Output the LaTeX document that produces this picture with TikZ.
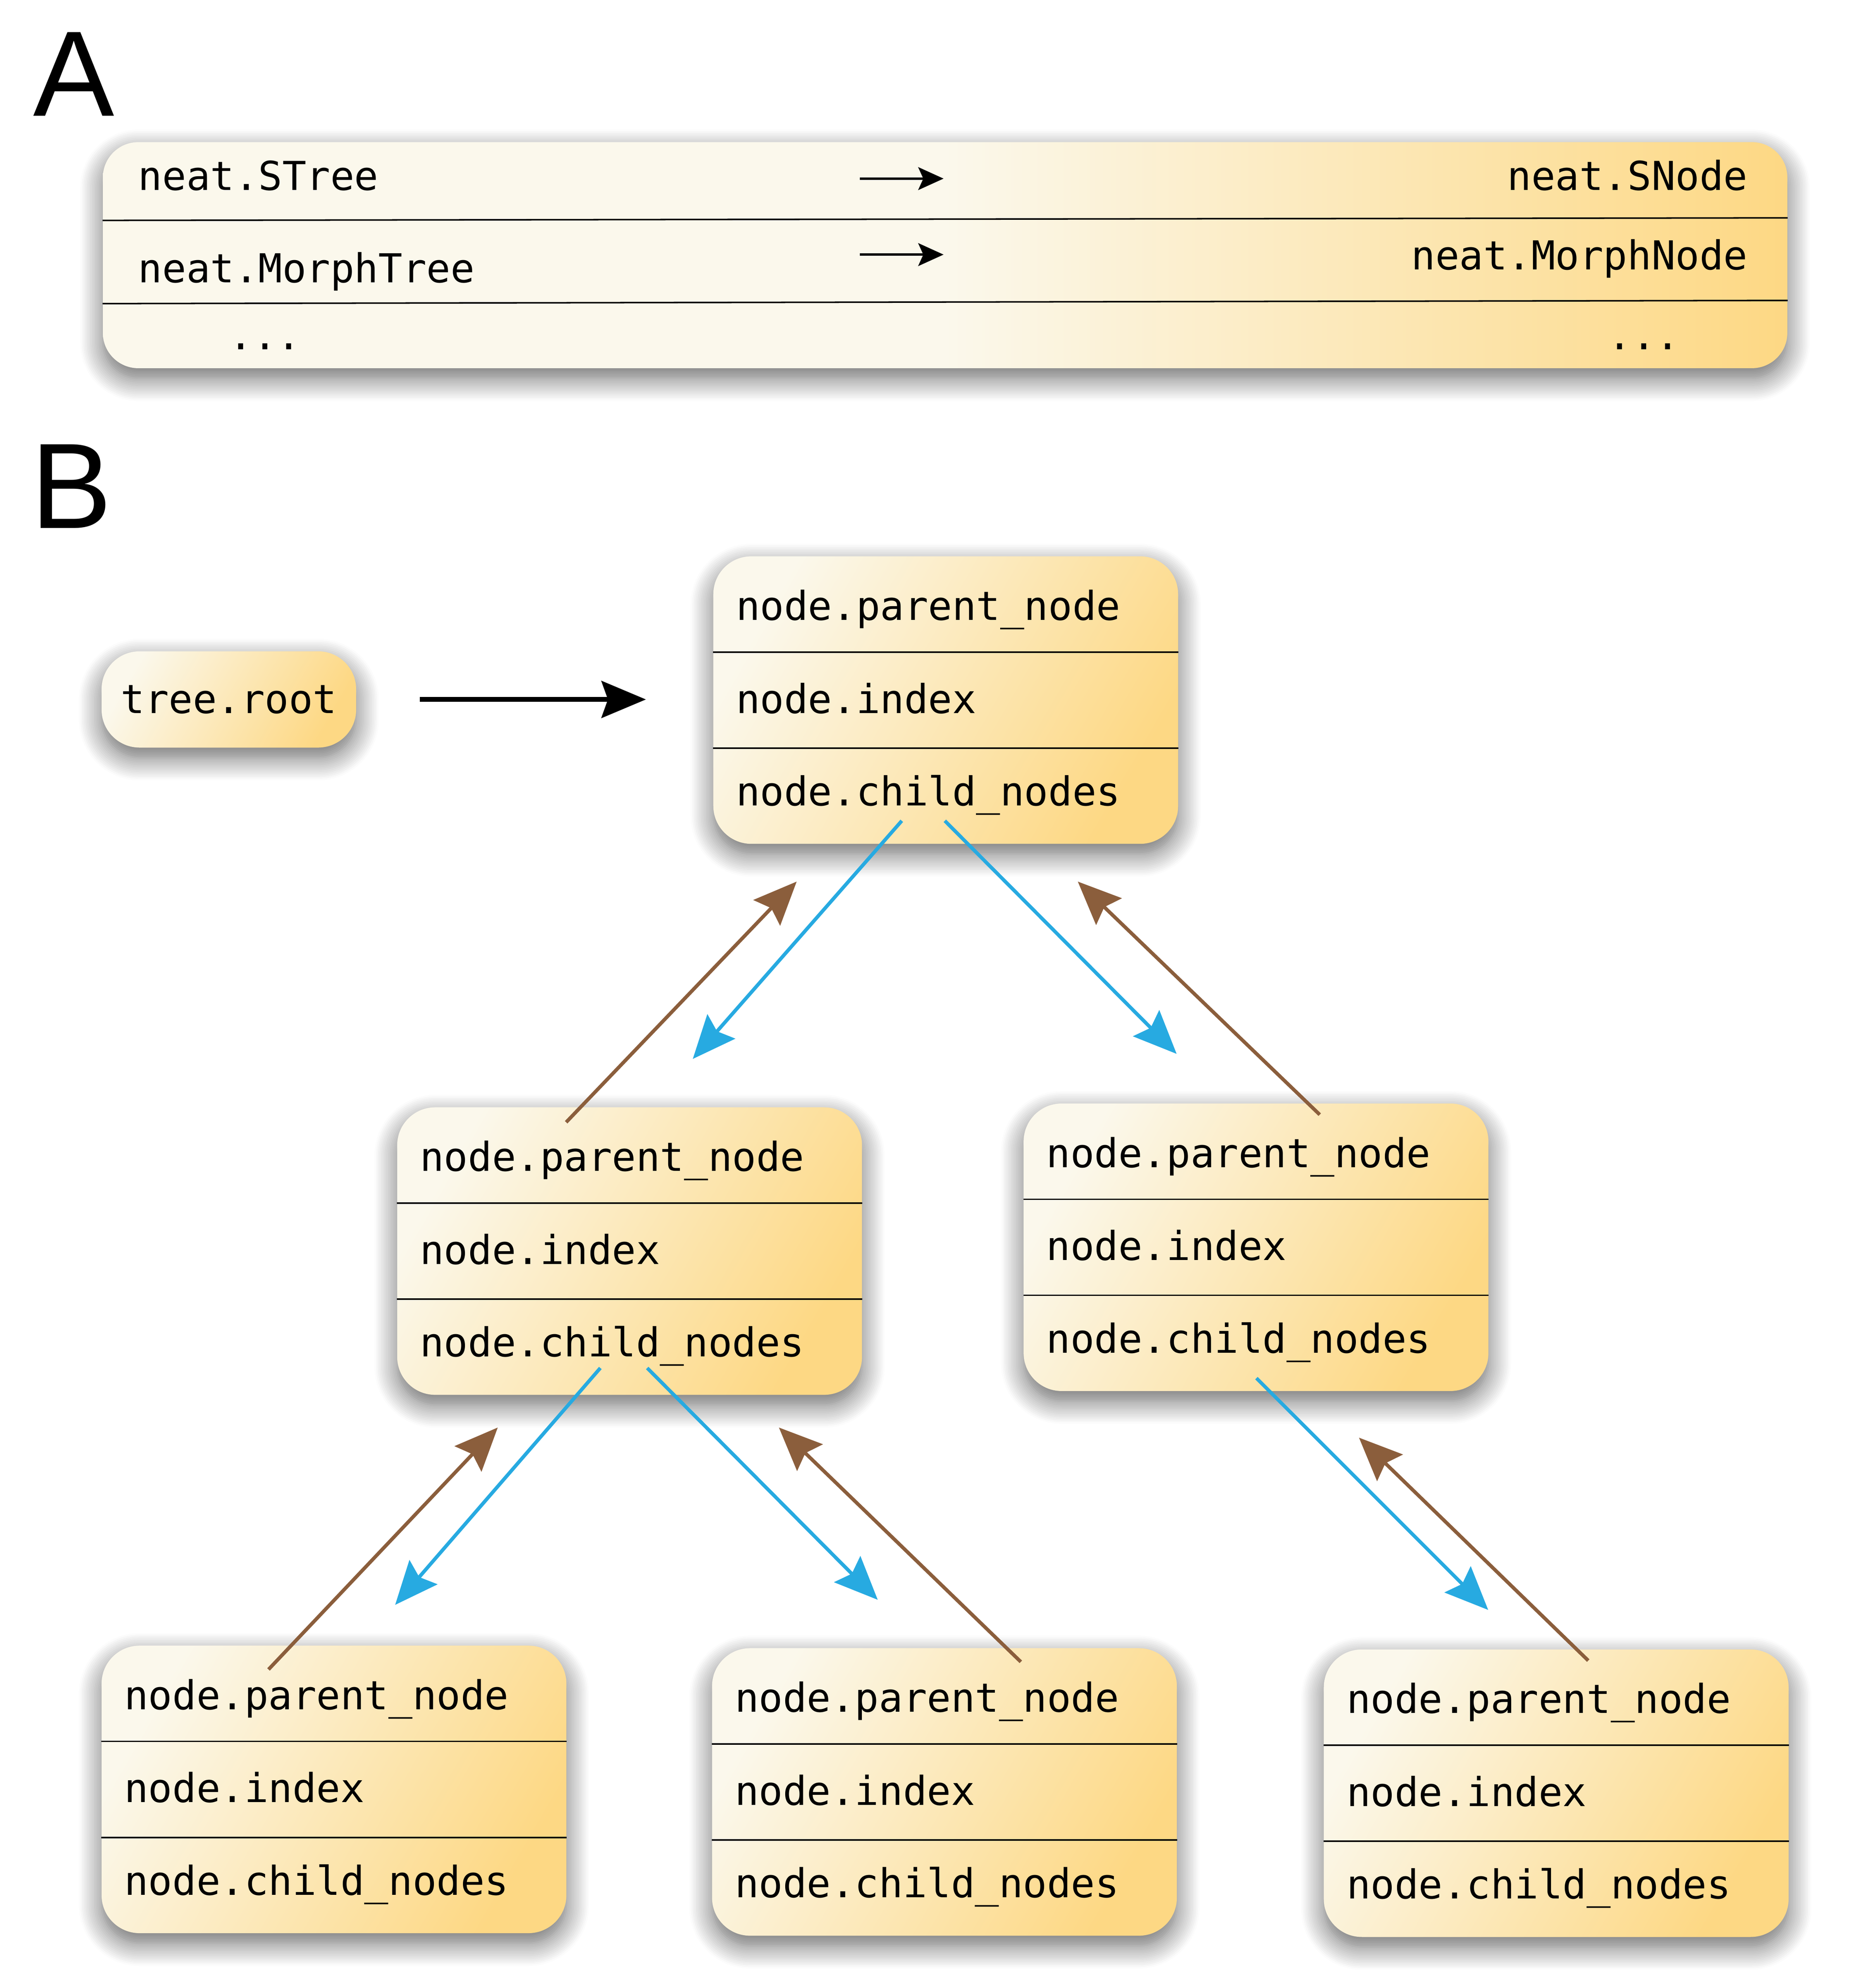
\documentclass[tikz,border=0pt]{standalone}
\usepackage{fontspec}
\setmonofont{DejaVu Sans Mono}
\setsansfont{Liberation Sans}
\usetikzlibrary{arrows.meta,calc,shadows.blur}

\definecolor{cream}{RGB}{251,248,236}
\definecolor{gold}{RGB}{253,216,132}
\definecolor{kidblue}{RGB}{39,170,225}
\definecolor{upbrown}{RGB}{139,94,60}

\tikzset{
  shad/.style={blur shadow={shadow xshift=0pt,shadow yshift=-8pt,shadow blur radius=18pt,shadow blur steps=14,shadow opacity=60}},
  recbox/.style={shad,rounded corners=30pt,minimum width=367pt,minimum height=227pt,inner sep=0pt,
    left color=cream,right color=gold,shading angle=60,anchor=north west},
  rowline/.style={line width=1.2pt},
  code/.style={font=\ttfamily\fontsize{31.5}{36}\selectfont,inner sep=0pt,anchor=base west},
  panel/.style={font=\sffamily\fontsize{96}{100}\selectfont,inner sep=0pt,anchor=base west},
  tochild/.style={kidblue,line width=2.8pt,-{Stealth[length=34pt,width=29pt,inset=5pt]}},
  toparent/.style={upbrown,line width=2.8pt,-{Stealth[length=34pt,width=29pt,inset=5pt]}},
  maparrow/.style={line width=2pt,-{Stealth[length=20pt,width=18pt,inset=4pt]}},
}

% one tree node: name, x, y (top left corner)
\newcommand{\recnode}[3]{%
  \node[recbox] (#1) at (#2,#3) {};
  \draw[rowline] ($(#1.north west)!1/3!(#1.south west)$) -- ($(#1.north east)!1/3!(#1.south east)$);
  \draw[rowline] ($(#1.north west)!2/3!(#1.south west)$) -- ($(#1.north east)!2/3!(#1.south east)$);
  \node[code] (#1p) at ($(#1.north west)+(18,50.5)$) {node.parent\_node};
  \node[code] (#1i) at ($(#1.north west)+(18,124)$) {node.index};
  \node[code] (#1c) at ($(#1.north west)+(18,197)$) {node.child\_nodes};
}

\begin{document}
\begin{tikzpicture}[x=1pt,y=-1pt]
\useasboundingbox (0,0) rectangle (1470,1569.5);

% panel A
\node[panel] (labA) at (26,91.4) {A};
\node[shad,rounded corners=28pt,minimum width=1330pt,minimum height=178.5pt,inner sep=0pt,
  left color=cream,right color=gold,middle color=cream,anchor=north west] (tab) at (81,112) {};
\draw[rowline] ($(tab.north west)+(0,62)$) -- ($(tab.north east)+(0,60)$);
\draw[rowline] ($(tab.north west)+(0,127.7)$) -- ($(tab.north east)+(0,125.2)$);
\node[code] (stree) at (109,150) {neat.STree};
\node[code,anchor=base east] (snode) at (1380,150) {neat.SNode};
\node[code] (mtree) at (109,223) {neat.MorphTree};
\node[code,anchor=base east] (mnode) at (1380,213) {neat.MorphNode};
\node[code] (dotl) at (180.5,276) {...};
\node[code,anchor=base east] (dotr) at (1326.5,276) {...};
\coordinate (a1s) at (679,141);
\coordinate (a1e) at (745,141);
\coordinate (a2s) at (679,201);
\coordinate (a2e) at (745,201);
\draw[maparrow] (a1s) -- (a1e);
\draw[maparrow] (a2s) -- (a2e);

% panel B
\node[panel] (labB) at (24,417) {B};
\node[shad,rounded corners=30pt,minimum width=201pt,minimum height=76pt,inner sep=0pt,
  left color=cream,right color=gold,shading angle=60,anchor=north west,
  font=\ttfamily\fontsize{31.5}{36}\selectfont] (root) at (80,514) {tree.root};

\recnode{nd0}{563}{439}
\recnode{nd1}{313.4}{874}
\recnode{nd2}{808}{871}
\recnode{nd3}{80}{1299}
\recnode{nd4}{562}{1301}
\recnode{nd5}{1045}{1302}

\draw[line width=4pt,-{Stealth[length=35pt,width=29pt,inset=5pt]}] ([xshift=50pt]root.east) -- ($(nd0.west |- root.east)+(-53,0)$);

% links between the levels
\coordinate (k1s) at (712,648);  \coordinate (k1e) at (547,836);
\coordinate (k2s) at (746,648);  \coordinate (k2e) at (929,832);
\coordinate (p1s) at (447,886);  \coordinate (p1e) at (629,696);
\coordinate (p2s) at (1042,880); \coordinate (p2e) at (851,696);
\coordinate (k3s) at (474,1080); \coordinate (k3e) at (312,1267);
\coordinate (k4s) at (511,1080); \coordinate (k4e) at (693,1263);
\coordinate (p3s) at (212,1318); \coordinate (p3e) at (393,1127);
\coordinate (p4s) at (806,1312); \coordinate (p4e) at (615,1127);
\coordinate (k5s) at (992,1088); \coordinate (k5e) at (1175,1271);
\coordinate (p5s) at (1254,1311); \coordinate (p5e) at (1073,1135);

\draw[tochild] (k1s) -- (k1e);
\draw[tochild] (k2s) -- (k2e);
\draw[toparent] (p1s) -- (p1e);
\draw[toparent] (p2s) -- (p2e);
\draw[tochild] (k3s) -- (k3e);
\draw[tochild] (k4s) -- (k4e);
\draw[toparent] (p3s) -- (p3e);
\draw[toparent] (p4s) -- (p4e);
\draw[tochild] (k5s) -- (k5e);
\draw[toparent] (p5s) -- (p5e);
\end{tikzpicture}
\end{document}
